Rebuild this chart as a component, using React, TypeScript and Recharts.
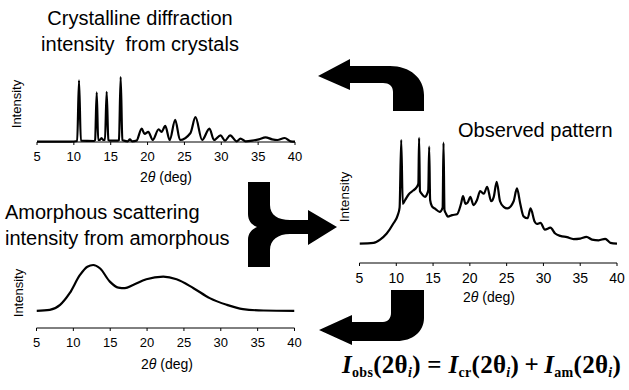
import React from 'react';
import { LineChart, Line, XAxis, YAxis } from 'recharts';

const angleTicks = [5, 10, 15, 20, 25, 30, 35, 40];

// crystalline diffraction (top left)
const crystalAngle = [5, 9.6, 10.45, 10.7, 10.95, 12.7, 12.88, 13.1, 13.3, 13.5, 13.75, 14.0, 14.22, 14.45, 14.68, 14.9, 15.95, 16.12, 16.35, 16.58, 16.8, 17.3, 17.6, 17.9, 18.5, 19.2, 19.6, 20.1, 20.7, 21.5, 21.9, 22.4, 23.0, 23.75, 24.4, 25.8, 26.5, 27.4, 28.4, 29.0, 29.9, 30.5, 31.2, 32.1, 32.6, 33.3, 34.2, 35.1, 36.0, 36.9, 37.6, 38.6, 39.4, 40];
const crystalIntensity = [0.5, 0.5, 1.5, 92, 2, 1.5, 3, 74, 3, 3, 6, 3, 3, 75, 3, 2, 2, 3, 97, 3, 2, 1, 4, 1, 2, 20, 12, 15, 3, 19, 15, 24, 3, 33, 3, 13, 37, 3, 20, 3, 10, 2, 10, 1, 5, 1, 2, 4, 7, 4, 3, 6, 1, 0.5];

// observed pattern (right)
const observedAngle = [5, 6.9, 7.8, 8.7, 9.6, 10.2, 10.45, 10.67, 10.88, 11.2, 11.7, 12.3, 12.75, 13.0, 13.1, 13.22, 13.45, 13.9, 14.2, 14.35, 14.47, 14.6, 14.85, 15.3, 15.9, 16.3, 16.42, 16.55, 16.75, 17.0, 17.6, 18.25, 18.8, 19.07, 19.4, 19.7, 20.06, 20.5, 20.97, 21.4, 21.9, 22.35, 22.9, 23.25, 23.65, 24.1, 24.6, 25.1, 25.95, 26.4, 26.85, 27.3, 27.85, 28.25, 28.8, 29.1, 29.6, 30.2, 30.95, 31.6, 32.3, 33.2, 34.1, 35.0, 35.85, 36.6, 37.5, 38.4, 39.1, 40];
const observedIntensity = [15.4, 16, 18.6, 23.4, 31.3, 38, 44, 97.6, 47, 50, 54.6, 57.5, 60, 63, 99.4, 57, 55, 52.5, 55, 58, 92.3, 50, 45, 43, 40.6, 44, 95.5, 42, 39.3, 36.8, 38, 38.7, 47, 53, 47, 48, 52.5, 46, 50, 57, 55, 60.5, 49, 52.5, 64.4, 49, 44.6, 43.3, 49, 59.2, 47, 37, 35.5, 43.3, 33, 31, 31.8, 26.5, 28, 23.4, 21.5, 20.5, 19, 19.4, 20.7, 18.6, 18, 19.2, 16, 15.4];

// amorphous scattering (bottom left)
const amorphousAngle = [5, 6.8, 8.2, 9.5, 10.9, 11.9, 12.7, 13.6, 14.95, 16.1, 17.0, 18.1, 19.9, 22.2, 24.0, 26.3, 28.5, 30.8, 33.0, 35.8, 40];
const amorphousIntensity = [27.3, 28.9, 36.8, 55.3, 84.2, 97.3, 100, 94.8, 73.6, 64.1, 63.2, 68.4, 77.4, 81.5, 77.4, 63.2, 47.4, 36.8, 30, 27.8, 27.3];

const toRows = (angles: number[], values: number[]) =>
  angles.map((angle, i) => ({ angle, value: values[i] }));

const sans = '"Liberation Sans", Arial, Helvetica, sans-serif';
const W = 629;

type PanelProps = {
  rows: { angle: number; value: number }[];
  left: number;
  right: number;
  top: number;
  axisY: number;
  fontSize: number;
};

const Panel = ({ rows, left, right, top, axisY, fontSize }: PanelProps) => (
  <div style={{ position: 'absolute', left: 0, top: 0 }}>
    <LineChart
      width={W}
      height={axisY + 40}
      data={rows}
      margin={{ top, left, right: W - right, bottom: 10 }}
    >
      <XAxis
        type="number"
        dataKey="angle"
        domain={[5, 40]}
        ticks={angleTicks}
        interval={0}
        allowDataOverflow
        height={30}
        tickSize={3}
        tickMargin={7}
        stroke="#000"
        tick={{ fill: '#000', fontSize, fontFamily: sans }}
      />
      <YAxis hide domain={[0, 100]} />
      <Line
        type="monotone"
        dataKey="value"
        stroke="#000"
        strokeWidth={2.2}
        dot={false}
        isAnimationActive={false}
      />
    </LineChart>
  </div>
);

const AxisTitle = ({ x, y, size }: { x: number; y: number; size: number }) => (
  <div
    style={{
      position: 'absolute',
      left: x - 50,
      top: y - 10,
      width: 100,
      lineHeight: '20px',
      textAlign: 'center',
      fontSize: size,
    }}
  >
    2<i>θ</i> (deg)
  </div>
);

const IntensityLabel = ({ x, y, size }: { x: number; y: number; size: number }) => (
  <div
    style={{
      position: 'absolute',
      left: x - 40,
      top: y - 8,
      width: 80,
      lineHeight: '16px',
      textAlign: 'center',
      fontSize: size,
      transform: 'rotate(-90deg)',
    }}
  >
    Intensity
  </div>
);

const sub = { fontSize: 14, verticalAlign: '-0.3em' };

const App = () => {
  return (
    <div
      style={{
        position: 'absolute',
        left: 0,
        top: 0,
        width: W,
        height: 390,
        background: '#fff',
        fontFamily: sans,
        color: '#000',
        overflow: 'hidden',
      }}
    >
      <Panel rows={toRows(crystalAngle, crystalIntensity)} left={37} right={295} top={75} axisY={142} fontSize={13} />
      <Panel rows={toRows(observedAngle, observedIntensity)} left={359.5} right={617} top={137} axisY={263} fontSize={14} />
      <Panel rows={toRows(amorphousAngle, amorphousIntensity)} left={36.5} right={294.5} top={265} axisY={328} fontSize={13} />

      {/* arrows */}
      <svg width={W} height={390} style={{ position: 'absolute', left: 0, top: 0 }}>
        <path d="M318,76 L350,59 L350,66 L390,66 C410,66 424,78 424,95 L424,111 L393,111 L393,92 C393,86 389,83 383,83 L350,83 L350,90 Z" fill="#000" />
        <path d="M248,182 L270,182 L270,205 C270,215 278,220 290,220 L308,220 L308,210 L337,227 L308,245 L308,234 L290,234 C278,234 270,240 270,250 L270,267 L248,267 L248,240 C248,233 252,229 257,227 C252,225 248,221 248,214 Z" fill="#000" />
        <path d="M391,290 L424,290 L424,318 C424,332 412,341 397,341 L352,341 L352,345 L319,330 L352,315 L352,322 L383,322 C388,322 391,318 391,313 Z" fill="#000" />
      </svg>

      {/* titles */}
      <div style={{ position: 'absolute', left: 30, top: 5, width: 220, textAlign: 'center', fontSize: 20, lineHeight: '26px', whiteSpace: 'pre' }}>
        {'Crystalline diffraction\nintensity  from crystals'}
      </div>
      <div style={{ position: 'absolute', left: 5, top: 199, fontSize: 20, lineHeight: '26px', whiteSpace: 'pre' }}>
        {'Amorphous scattering\nintensity from amorphous'}
      </div>
      <div style={{ position: 'absolute', left: 458, top: 117, fontSize: 20, lineHeight: '26px' }}>
        Observed pattern
      </div>

      <IntensityLabel x={17} y={104} size={13} />
      <IntensityLabel x={345} y={197} size={13.5} />
      <IntensityLabel x={19} y={293} size={13} />

      <AxisTitle x={166} y={177} size={14} />
      <AxisTitle x={489} y={297} size={14} />
      <AxisTitle x={167} y={364} size={14} />

      {/* equation */}
      <div
        style={{
          position: 'absolute',
          left: 342,
          top: 351,
          fontFamily: '"Liberation Serif", "Times New Roman", serif',
          fontWeight: 'bold',
          fontSize: 25,
          lineHeight: '28px',
          whiteSpace: 'pre',
          letterSpacing: '0.3px',
        }}
      >
        <i>I</i><span style={sub}>obs</span>(2θ<span style={sub}><i>i</i></span>) = <i>I</i>
        <span style={sub}>cr</span>(2θ<span style={sub}><i>i</i></span>){'\u2009+\u2009'}<i>I</i>
        <span style={sub}>am</span>(2θ<span style={sub}><i>i</i></span>)
      </div>
    </div>
  );
};

export default App;
